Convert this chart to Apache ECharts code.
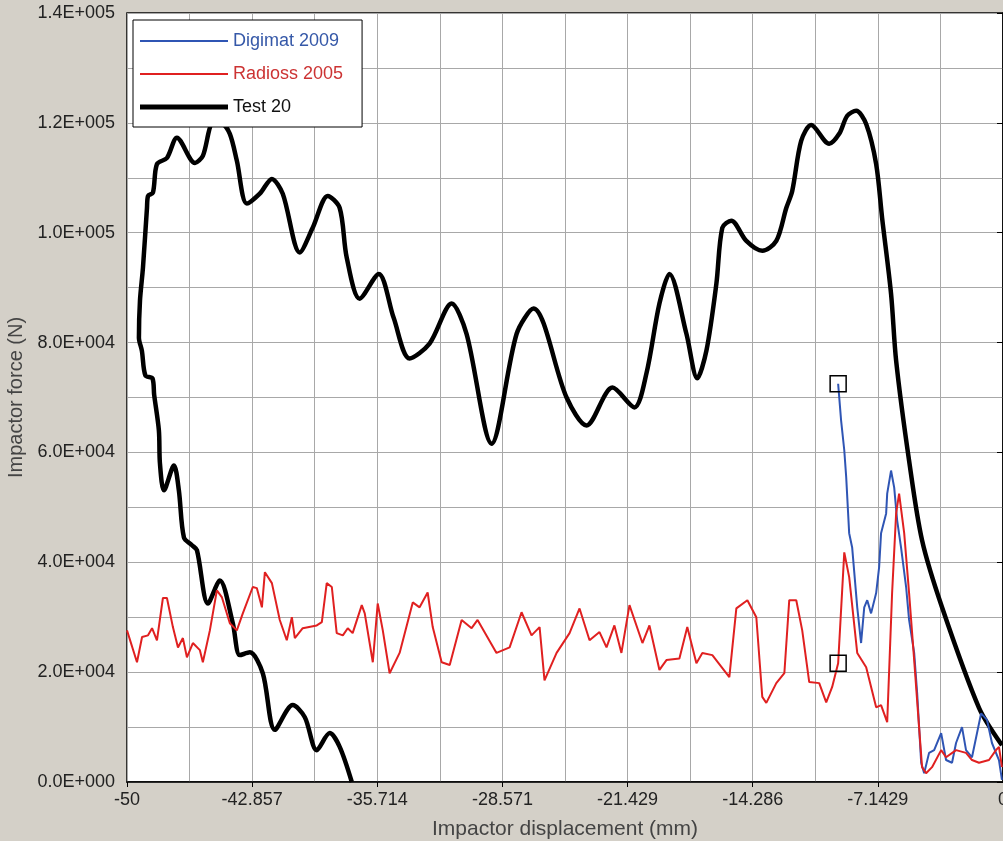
<!DOCTYPE html>
<html>
<head>
<meta charset="utf-8">
<script src="https://cdn.jsdelivr.net/npm/echarts@6/dist/echarts.min.js"></script>
<style>
    html, body { margin: 0; padding: 0; background: #d4d0c8; }
    #container { width: 1003px; height: 841px; }
</style>
</head>
<body>
<div id="container"></div>
<script>
    // 数据 (displacement mm, force N)
    let xTickLabels = ['-50', '-42.857', '-35.714', '-28.571', '-21.429', '-14.286', '-7.1429', '0'];

    let digimatData = [
        [-9.41, 72500], [-9.24, 65800], [-9.06, 60400], [-8.95, 55500], [-8.78, 45300], [-8.61, 42700],
        [-8.32, 31800], [-8.10, 25300], [-7.92, 31800], [-7.75, 33100], [-7.53, 30700], [-7.24, 34400],
        [-7.07, 39100], [-6.96, 45300], [-6.67, 48900], [-6.61, 52500], [-6.39, 56700], [-6.21, 53600],
        [-6.04, 47600], [-5.82, 42700], [-5.53, 35500], [-5.36, 29500], [-5.07, 23500], [-4.90, 16200],
        [-4.67, 3500], [-4.50, 1600], [-4.22, 5300], [-3.93, 5800], [-3.53, 8900], [-3.25, 4000],
        [-2.91, 3500], [-2.68, 7100], [-2.34, 10000], [-2.11, 5800], [-1.77, 4500], [-1.25, 12500],
        [-0.91, 11300], [-0.63, 7100], [-0.23, 4000], [-0.06, 400]
    ];

    let radiossData = [
        [-50, 27600], [-49.43, 21800], [-49.14, 26400], [-48.80, 26700], [-48.57, 28000], [-48.29, 25800],
        [-47.95, 33500], [-47.72, 33500], [-47.38, 28200], [-47.09, 24500], [-46.81, 26200], [-46.58, 22700],
        [-46.24, 25300], [-45.84, 24000], [-45.67, 21800], [-45.27, 27600], [-44.87, 34900], [-44.58, 33600],
        [-44.13, 28900], [-43.73, 27600], [-43.39, 30700], [-42.82, 35500], [-42.59, 35300], [-42.30, 31800],
        [-42.13, 38200], [-41.73, 36200], [-41.28, 29500], [-40.88, 25800], [-40.59, 30000], [-40.42, 26200],
        [-39.97, 28000], [-39.17, 28500], [-38.88, 29100], [-38.60, 36200], [-38.31, 35500], [-38.03, 27100],
        [-37.68, 26700], [-37.40, 28000], [-37.12, 27100], [-36.60, 32200], [-36.43, 30700], [-35.97, 21800],
        [-35.69, 32500], [-35.40, 27600], [-35.01, 19800], [-34.44, 23500], [-33.69, 32700], [-33.30, 31800],
        [-32.84, 34500], [-32.55, 28200], [-32.04, 21800], [-31.58, 21300], [-30.90, 29500], [-30.33, 28000],
        [-29.99, 29500], [-28.91, 23500], [-28.16, 24500], [-27.48, 30900], [-26.91, 26700], [-26.45, 28200],
        [-26.17, 18500], [-25.48, 23500], [-24.74, 27100], [-24.17, 31600], [-23.60, 25800], [-23.03, 27300],
        [-22.63, 24500], [-22.18, 28500], [-21.78, 23500], [-21.32, 32200], [-20.58, 25300], [-20.18, 28500],
        [-19.61, 20400], [-19.21, 22200], [-18.47, 22500], [-18.02, 28200], [-17.50, 21600], [-17.16, 23500],
        [-16.59, 23100], [-15.62, 19100], [-15.22, 31600], [-14.59, 33100], [-14.08, 30000], [-13.74, 15500],
        [-13.51, 14400], [-12.94, 18000], [-12.48, 19800], [-12.20, 33100], [-11.80, 33100], [-11.46, 27600],
        [-11.06, 18200], [-10.49, 18000], [-10.09, 14500], [-9.75, 17300], [-9.41, 21600], [-9.06, 41800],
        [-8.78, 37300], [-8.32, 23500], [-7.81, 20900], [-7.24, 13600], [-6.96, 14000], [-6.61, 10900],
        [-6.33, 34400], [-6.10, 48900], [-5.93, 52500], [-5.64, 45300], [-5.36, 34400], [-5.07, 22200],
        [-4.79, 10000], [-4.62, 2700], [-4.39, 1600], [-4.05, 2700], [-3.53, 5800], [-3.25, 4500],
        [-2.68, 5800], [-2.11, 5300], [-1.77, 4000], [-1.37, 3500], [-0.80, 4000], [-0.40, 5800],
        [-0.23, 6400], [-0.06, 2700]
    ];

    // test curve: loading from right, then unloading back along the lower branch
    let testData = [
        [-0.06, 6700], [-1.37, 13500], [-3.48, 31800], [-4.62, 44000], [-5.36, 58500], [-6.10, 76700],
        [-6.39, 88900], [-6.90, 102700], [-7.24, 112500], [-7.81, 119800], [-8.38, 122200], [-8.89, 121300],
        [-9.35, 118000], [-9.92, 116200], [-10.95, 119600], [-11.52, 116700], [-12.03, 107600], [-12.37, 104500],
        [-12.94, 98500], [-13.74, 96700], [-14.65, 98500], [-15.51, 102200], [-16.02, 100900], [-16.36, 90700],
        [-16.93, 78500], [-17.45, 73500], [-18.07, 81600], [-19.04, 92500], [-19.61, 87100], [-20.35, 74400],
        [-21.04, 68200], [-22.29, 71800], [-23.77, 64900], [-24.91, 70000], [-26.80, 86200], [-27.76, 81600],
        [-29.19, 61600], [-30.62, 81600], [-31.47, 87100], [-32.73, 79800], [-33.87, 77100], [-34.78, 84500],
        [-35.63, 92500], [-36.72, 88000], [-37.46, 95500], [-37.86, 104500], [-38.54, 106700], [-39.40, 100900],
        [-40.14, 96400], [-41.11, 107100], [-41.73, 109800], [-42.42, 107100], [-43.16, 105300], [-43.73, 113100],
        [-44.13, 118000], [-44.58, 119800], [-45.10, 119800], [-45.67, 114000], [-46.12, 112700], [-47.15, 117300],
        [-47.72, 113600], [-48.29, 112500], [-48.52, 107300], [-48.80, 106700], [-48.86, 104500], [-49.09, 93600],
        [-49.26, 87600], [-49.32, 80900], [-49.15, 78500], [-48.95, 74000], [-48.55, 73500], [-48.45, 70500],
        [-48.18, 64000], [-48.12, 58000], [-47.89, 53100], [-47.32, 57600], [-47.04, 53100],
        [-46.75, 44500], [-46.29, 43100], [-46.01, 42200], [-45.38, 32500], [-44.70, 36700], [-43.96, 28900],
        [-43.56, 23100], [-42.99, 23600], [-42.25, 19800], [-41.56, 9500], [-40.54, 14000], [-39.85, 11800],
        [-39.17, 5800], [-38.43, 8900], [-37.86, 6400], [-37.17, 0]
    ];

    let markerDigimat = [-9.41, 72500];
    let markerRadioss = [-9.41, 21600];

    function expLabel(v) {
        if (v === 0) return '0.0E+000';
        let e = Math.floor(Math.log10(Math.abs(v)));
        let m = v / Math.pow(10, e);
        return m.toFixed(1) + 'E+' + String(e).padStart(3, '0');
    }

    function markerOf(coord) {
        return {
            symbol: 'rect',
            symbolSize: 16,
            silent: true,
            label: { show: false },
            itemStyle: { color: 'rgba(0,0,0,0)', borderColor: '#000', borderWidth: 1.5 },
            data: [{ coord: coord }]
        };
    }

    let step = 50 / 7;
    let myChart = echarts.init(document.getElementById('container'));
    let option = {
        animation: false,
        backgroundColor: '#d4d0c8',
        textStyle: { fontFamily: 'Liberation Sans, Arial, sans-serif' },
        grid: {
            left: 127, right: 0, top: 13, bottom: 59,
            outerBoundsMode: 'none',
            containLabel: false,
            show: true,
            backgroundColor: '#ffffff',
            borderColor: '#000',
            borderWidth: 1.5
        },
        legend: {
            orient: 'vertical',
            left: 133,
            top: 20,
            padding: [12, 19, 11, 7],
            itemWidth: 88,
            itemHeight: 14,
            itemGap: 15,
            backgroundColor: '#ffffff',
            borderColor: '#000',
            borderWidth: 1,
            borderRadius: 0,
            selectedMode: false,
            textStyle: { fontSize: 18 },
            data: [
                { name: 'Digimat 2009', icon: 'path://M0,0H88V2H0Z', textStyle: { color: '#3558a8' } },
                { name: 'Radioss 2005', icon: 'path://M0,0H88V2H0Z', textStyle: { color: '#cc3333' } },
                { name: 'Test 20', icon: 'path://M0,0H88V5H0Z', textStyle: { color: '#111' } }
            ]
        },
        xAxis: {
            type: 'value',
            min: -50,
            max: 0,
            interval: step,
            name: 'Impactor displacement (mm)',
            nameLocation: 'middle',
            nameGap: 37,
            nameTextStyle: { fontSize: 21, color: '#444' },
            axisLine: { show: true, lineStyle: { color: '#000', width: 1.5 } },
            axisTick: { show: true, length: 5, lineStyle: { color: '#000' } },
            axisLabel: {
                fontSize: 18,
                color: '#222',
                margin: 9,
                formatter: function (v) {
                    return xTickLabels[Math.round((v + 50) / step)];
                }
            },
            splitLine: { show: true, lineStyle: { color: '#a8a8a8', width: 1 } },
            minorTick: { show: false, splitNumber: 2 },
            minorSplitLine: { show: true, lineStyle: { color: '#a8a8a8', width: 1 } }
        },
        yAxis: {
            type: 'value',
            min: 0,
            max: 140000,
            interval: 20000,
            name: 'Impactor force (N)',
            nameLocation: 'middle',
            nameGap: 101,
            nameRotate: 90,
            nameTextStyle: { fontSize: 20, color: '#444' },
            axisLine: { show: true, lineStyle: { color: '#000', width: 1.5 } },
            axisTick: { show: true, length: 6, lineStyle: { color: '#000' } },
            axisLabel: {
                fontSize: 18,
                color: '#222',
                margin: 12,
                formatter: expLabel
            },
            splitLine: { show: true, lineStyle: { color: '#a8a8a8', width: 1 } },
            minorTick: { show: false, splitNumber: 2 },
            minorSplitLine: { show: true, lineStyle: { color: '#a8a8a8', width: 1 } }
        },
        series: [{
            name: 'Digimat 2009',
            type: 'line',
            data: digimatData,
            symbol: 'none',
            lineStyle: { color: '#2f55b4', width: 2 },
            itemStyle: { color: '#2f55b4' },
            z: 3,
            markPoint: markerOf(markerDigimat)
        }, {
            name: 'Radioss 2005',
            type: 'line',
            data: radiossData,
            symbol: 'none',
            lineStyle: { color: '#e02020', width: 2 },
            itemStyle: { color: '#e02020' },
            z: 4,
            markPoint: markerOf(markerRadioss)
        }, {
            name: 'Test 20',
            type: 'line',
            data: testData,
            symbol: 'none',
            smooth: 0.3,
            lineStyle: { color: '#000', width: 4.5 },
            itemStyle: { color: '#000' },
            z: 2
        }]
    };
    myChart.setOption(option, true);
</script>
</body>
</html>
